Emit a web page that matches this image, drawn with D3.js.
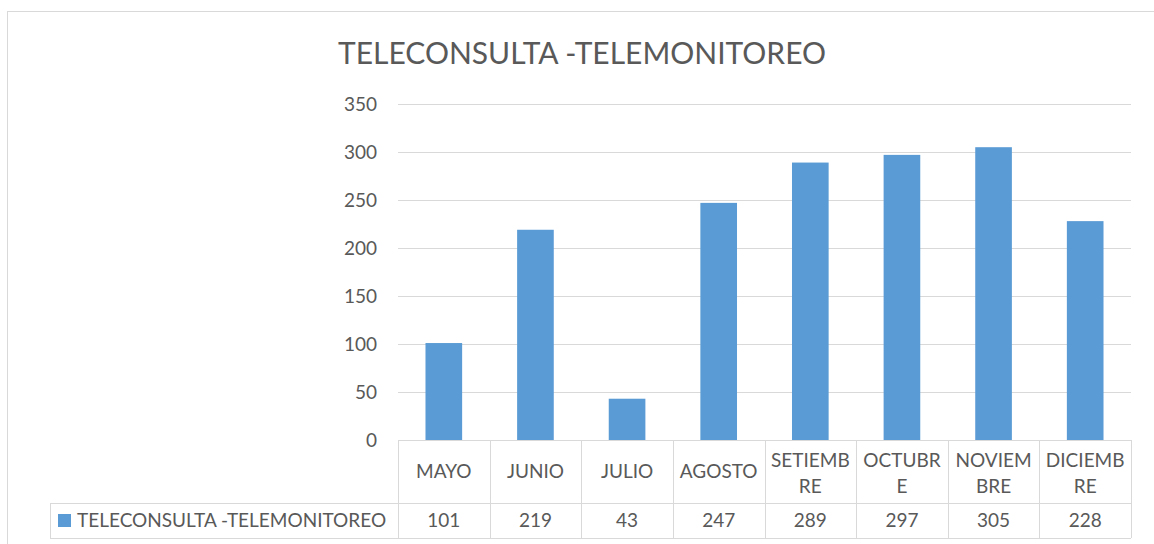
<!DOCTYPE html>
<html><head><meta charset="utf-8">
<script src="https://cdn.jsdelivr.net/npm/d3@7"></script>
<style>body{margin:0;background:#fff;}svg{display:block;font-family:Lato,"Open Sans",sans-serif;font-weight:400;}</style>
</head><body>
<svg id="c" width="1154" height="544"></svg>
<script>
const title = "TELECONSULTA -TELEMONITOREO";
const seriesName = "TELECONSULTA -TELEMONITOREO";
const categories = ["MAYO","JUNIO","JULIO","AGOSTO","SETIEMBRE","OCTUBRE","NOVIEMBRE","DICIEMBRE"];
const categoryLines = [["MAYO"],["JUNIO"],["JULIO"],["AGOSTO"],["SETIEMB","RE"],["OCTUBR","E"],["NOVIEM","BRE"],["DICIEMB","RE"]];
const values = [101,219,43,247,289,297,305,228];
const yTicks = [0,50,100,150,200,250,300,350];

const svg = d3.select("#c");
const gridC = "#d9d9d9", textC = "#595959", barC = "#5b9bd5";
const L = 398, R = 1131, T = 104, B = 440;
const rowMid = 503, rowBot = 538, tableLeft = 50;

// frame
svg.append("rect").attr("x",7.5).attr("y",11.5).attr("width",1160).attr("height",560)
  .attr("fill","none").attr("stroke",gridC);

svg.append("text").attr("x",582).attr("y",64).attr("text-anchor","middle")
  .attr("font-size",30).attr("fill",textC).text(title);

const x = d3.scaleBand().domain(categories).range([L,R]).paddingInner(0.6).paddingOuter(0.3);
const y = d3.scaleLinear().domain([0,350]).range([B,T]);

// gridlines + y labels via axis
const yAxis = d3.axisLeft(y).tickValues(yTicks).tickSize(-(R-L)).tickPadding(21);
const gy = svg.append("g").attr("transform",`translate(${L},0)`).call(yAxis);
gy.select(".domain").remove();
gy.selectAll(".tick line").attr("stroke",gridC).attr("shape-rendering","crispEdges");
gy.selectAll(".tick text").attr("fill",textC).attr("font-size",19).attr("font-family","Lato,'Open Sans',sans-serif");

// bars
svg.append("g").selectAll("rect").data(values).join("rect")
  .attr("x",(d,i)=>x(categories[i])).attr("width",x.bandwidth())
  .attr("y",d=>y(d)).attr("height",d=>y(0)-y(d)).attr("fill",barC);

// table
const tg = svg.append("g").attr("stroke",gridC).attr("shape-rendering","crispEdges");
tg.append("line").attr("x1",L).attr("x2",R).attr("y1",B+0.5).attr("y2",B+0.5);
tg.append("line").attr("x1",tableLeft).attr("x2",R).attr("y1",rowMid+0.5).attr("y2",rowMid+0.5);
tg.append("line").attr("x1",tableLeft).attr("x2",R).attr("y1",rowBot+0.5).attr("y2",rowBot+0.5);
tg.append("line").attr("x1",tableLeft+0.5).attr("x2",tableLeft+0.5).attr("y1",rowMid).attr("y2",rowBot);
const step = x.step();
const edges = categories.map(c => x(c) - x.paddingInner()*step/2);
edges.push(R);
tg.selectAll("line.v").data(edges).join("line").attr("class","v")
  .attr("x1",d=>Math.round(d)+0.5).attr("x2",d=>Math.round(d)+0.5).attr("y1",B).attr("y2",rowBot);

const cx = c => x(c) + x.bandwidth()/2;
const cg = svg.append("g").attr("fill",textC).attr("font-size",19).attr("text-anchor","middle");
categories.forEach((c,i)=>{
  const lines = categoryLines[i];
  const t = cg.append("text").attr("x",cx(c)).attr("y", lines.length===1 ? 478 : 467);
  lines.forEach((ln,j)=> t.append("tspan").attr("x",cx(c)).attr("dy", j===0?0:26).text(ln));
});
cg.selectAll("text.v").data(values).join("text").attr("class","v")
  .attr("x",(d,i)=>cx(categories[i])).attr("y",527).text(d=>d);

// legend key in table
svg.append("rect").attr("x",58).attr("y",514).attr("width",13).attr("height",13).attr("fill",barC);
svg.append("text").attr("x",77).attr("y",527).attr("font-size",19).attr("fill",textC).text(seriesName);
</script>
</body></html>
